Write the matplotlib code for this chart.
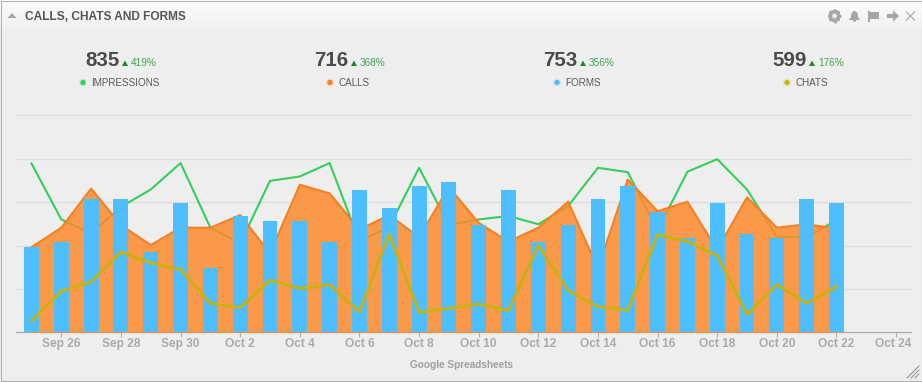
import numpy as np
import matplotlib
matplotlib.use("Agg")
import matplotlib.pyplot as plt
from matplotlib.patches import Circle, Polygon, Rectangle, RegularPolygon
from matplotlib.transforms import ScaledTranslation

plt.rcParams['font.family'] = ['Liberation Sans', 'DejaVu Sans']

# daily values, Sep 25 to Oct 22
impressions = [38.9, 26.0, 22.8, 28.9, 32.9, 39.0, 24.1, 20.5, 34.9, 35.9, 39.0, 20.9, 24.3, 37.9,
               24.7, 26.0, 26.8, 24.9, 29.1, 37.9, 36.9, 23.5, 37.0, 39.9, 32.9, 22.0, 22.0, 25.8]
calls = [19.6, 24.1, 33.1, 24.7, 20.1, 24.1, 24.1, 27.0, 18.2, 34.0, 32.0, 23.7, 27.0, 21.9,
         33.5, 25.2, 20.9, 24.1, 30.1, 14.7, 35.2, 27.9, 30.1, 19.0, 31.1, 24.1, 24.9, 23.9]
forms = [19.6, 20.7, 30.7, 30.7, 18.6, 29.8, 14.8, 26.8, 25.6, 25.6, 20.7, 32.7, 28.6, 33.7,
         34.6, 24.7, 32.7, 20.7, 24.7, 30.7, 33.7, 27.7, 21.7, 29.8, 22.6, 21.7, 30.7, 29.8]
chats = [2.7, 9.5, 11.6, 18.5, 16.0, 14.5, 6.7, 5.7, 12.0, 10.1, 11.0, 4.7, 22.6, 4.6,
         5.5, 6.5, 5.0, 20.0, 9.6, 5.9, 5.1, 22.5, 20.9, 17.7, 4.1, 11.0, 6.7, 10.5]

tick_labels = ["Sep 26", "Sep 28", "Sep 30", "Oct 2", "Oct 4", "Oct 6", "Oct 8", "Oct 10",
               "Oct 12", "Oct 14", "Oct 16", "Oct 18", "Oct 20", "Oct 22", "Oct 24"]
grid_values = [10, 20, 30, 40, 50]

stat_names = ["IMPRESSIONS", "CALLS", "FORMS", "CHATS"]
stat_totals = ["835", "716", "753", "599"]
stat_changes = ["419%", "368%", "356%", "176%"]

GREEN = "#33cf5a"
ORANGE = "#f67f20"
ORANGE_FILL = "#fd8a2c"
BLUE = "#4fbeff"
YELLOW = "#c9b20c"
ICON = "#a6a6a6"

W, H = 922, 382
fig = plt.figure(figsize=(W / 100, H / 100), dpi=100)

# panel drawn in pixel coordinates
bg = fig.add_axes([0, 0, 1, 1])
bg.set_xlim(0, W)
bg.set_ylim(H, 0)
bg.axis("off")
grad = np.ones((H, 1)) * 0xee / 255
grad[:34, 0] = np.linspace(0xfb, 0xee, 34) / 255
bg.imshow(grad, cmap="gray", vmin=0, vmax=1, extent=[0, W, H, 0], aspect="auto", zorder=0)
bg.set_xlim(0, W)
bg.set_ylim(H, 0)
bg.add_patch(Rectangle((0.5, 0.5), W - 1, H - 1.5, fill=False, ec="#b0b0b0", lw=0.75, zorder=1))

# header
bg.add_patch(Polygon([[7.5, 18], [12, 13], [16.5, 18]], color=ICON, lw=0))
bg.text(25, 16.5, "CALLS, CHATS AND FORMS", fontsize=8.6, fontweight="bold", color="#555555",
        va="center", ha="left")

# header icons
bg.add_patch(RegularPolygon((834.5, 16), 8, radius=6.5, color=ICON, lw=0))
for a in np.arange(0, 360, 45):
    bg.plot([834.5, 834.5 + 6.8 * np.cos(np.radians(a))], [16, 16 + 6.8 * np.sin(np.radians(a))],
            color=ICON, lw=1.8, solid_capstyle="butt")
bg.add_patch(Circle((834.5, 16), 2.4, color="#eeeeee", lw=0, zorder=3))
bg.add_patch(Polygon([[849, 20], [851, 17], [851.5, 13], [854.5, 10.5], [857.5, 13], [858, 17], [860, 20]],
                     color=ICON, lw=0))
bg.add_patch(Circle((854.5, 20.5), 1.5, color=ICON, lw=0))
bg.add_patch(Rectangle((868, 11), 2, 11, color=ICON, lw=0))
bg.add_patch(Rectangle((870, 11.5), 9, 7, color=ICON, lw=0))
bg.add_patch(Polygon([[887, 14], [893, 14], [893, 10.5], [899, 16], [893, 21.5], [893, 18], [887, 18]],
                     color=ICON, lw=0))
bg.plot([906.5, 914.5], [12, 20], color=ICON, lw=0.8)
bg.plot([906.5, 914.5], [20, 12], color=ICON, lw=0.8)

# summary numbers
num_x = [85, 314, 543, 772]
dot_x = [83, 330, 557, 787]
colors = [GREEN, ORANGE, BLUE, YELLOW]
for i in range(4):
    bg.text(num_x[i], 61, stat_totals[i], fontsize=14.8, fontweight="bold", color="#4a4a4a",
            va="center", ha="left")
    tx = num_x[i] + 40
    bg.add_patch(Polygon([[tx - 3, 66], [tx, 60.5], [tx + 3, 66]], color="#178a2e", lw=0))
    bg.text(tx + 6, 63.5, stat_changes[i], fontsize=7.2, color="#3fa556", va="center", ha="left")
    bg.add_patch(Circle((dot_x[i], 82.5), 4, color=colors[i], alpha=0.2, lw=0))
    bg.add_patch(Circle((dot_x[i], 82.5), 2.6, color=colors[i], lw=0))
    bg.text(dot_x[i] + 8.5, 82.5, stat_names[i], fontsize=7.1, color="#5a5a5a", va="center", ha="left")

# resize handle
for d in (4, 8, 12):
    bg.plot([W - 3 - d, W - 3], [H - 4, H - 4 - d], color="#8c8c8c", lw=0.7)

bg.text(461, 365, "Google Spreadsheets", fontsize=7.2, fontweight="bold", color="#a0a0a0",
        va="center", ha="center")

# chart
ax = fig.add_axes([16 / W, 1 - 332.3 / H, 895 / W, 217 / H])
ax.patch.set_alpha(0)
x = np.arange(len(forms))
ax.set_xlim(-0.52, 29.5)
ax.set_ylim(0, 50)

ax.plot(x, impressions, color=GREEN, lw=1.5, zorder=2)
ax.fill_between(x, calls, 0, color=ORANGE_FILL, alpha=0.85, lw=0, zorder=3)
ax.plot(x, calls, color=ORANGE, lw=1.5, zorder=3)
ax.bar(x, forms, width=0.5, color=BLUE, zorder=4)
ax.plot(x, chats, color=YELLOW, lw=2, zorder=5)

ax.set_yticks(grid_values)
ax.set_yticklabels([])
ax.grid(axis="y", color="#dcdcdc", lw=0.9, zorder=1)
ax.tick_params(axis="y", length=0)
ax.set_xticks(np.arange(1, 30, 2))
ax.set_xticklabels(tick_labels, fontsize=8.6, fontweight="bold", color="#aaaaaa")
ax.tick_params(axis="x", length=3.6, width=0.8, color="#b0b0b0", pad=0.2)
# last label is pushed in from the right edge
last = ax.get_xticklabels()[-1]
last.set_transform(last.get_transform() + ScaledTranslation(-3 / 100, 0, fig.dpi_scale_trans))
for s in ["top", "left", "right"]:
    ax.spines[s].set_visible(False)
ax.spines["bottom"].set_color("#a8a8a8")
ax.spines["bottom"].set_linewidth(0.9)

fig.savefig("out.png", dpi=100)
plt.close()
